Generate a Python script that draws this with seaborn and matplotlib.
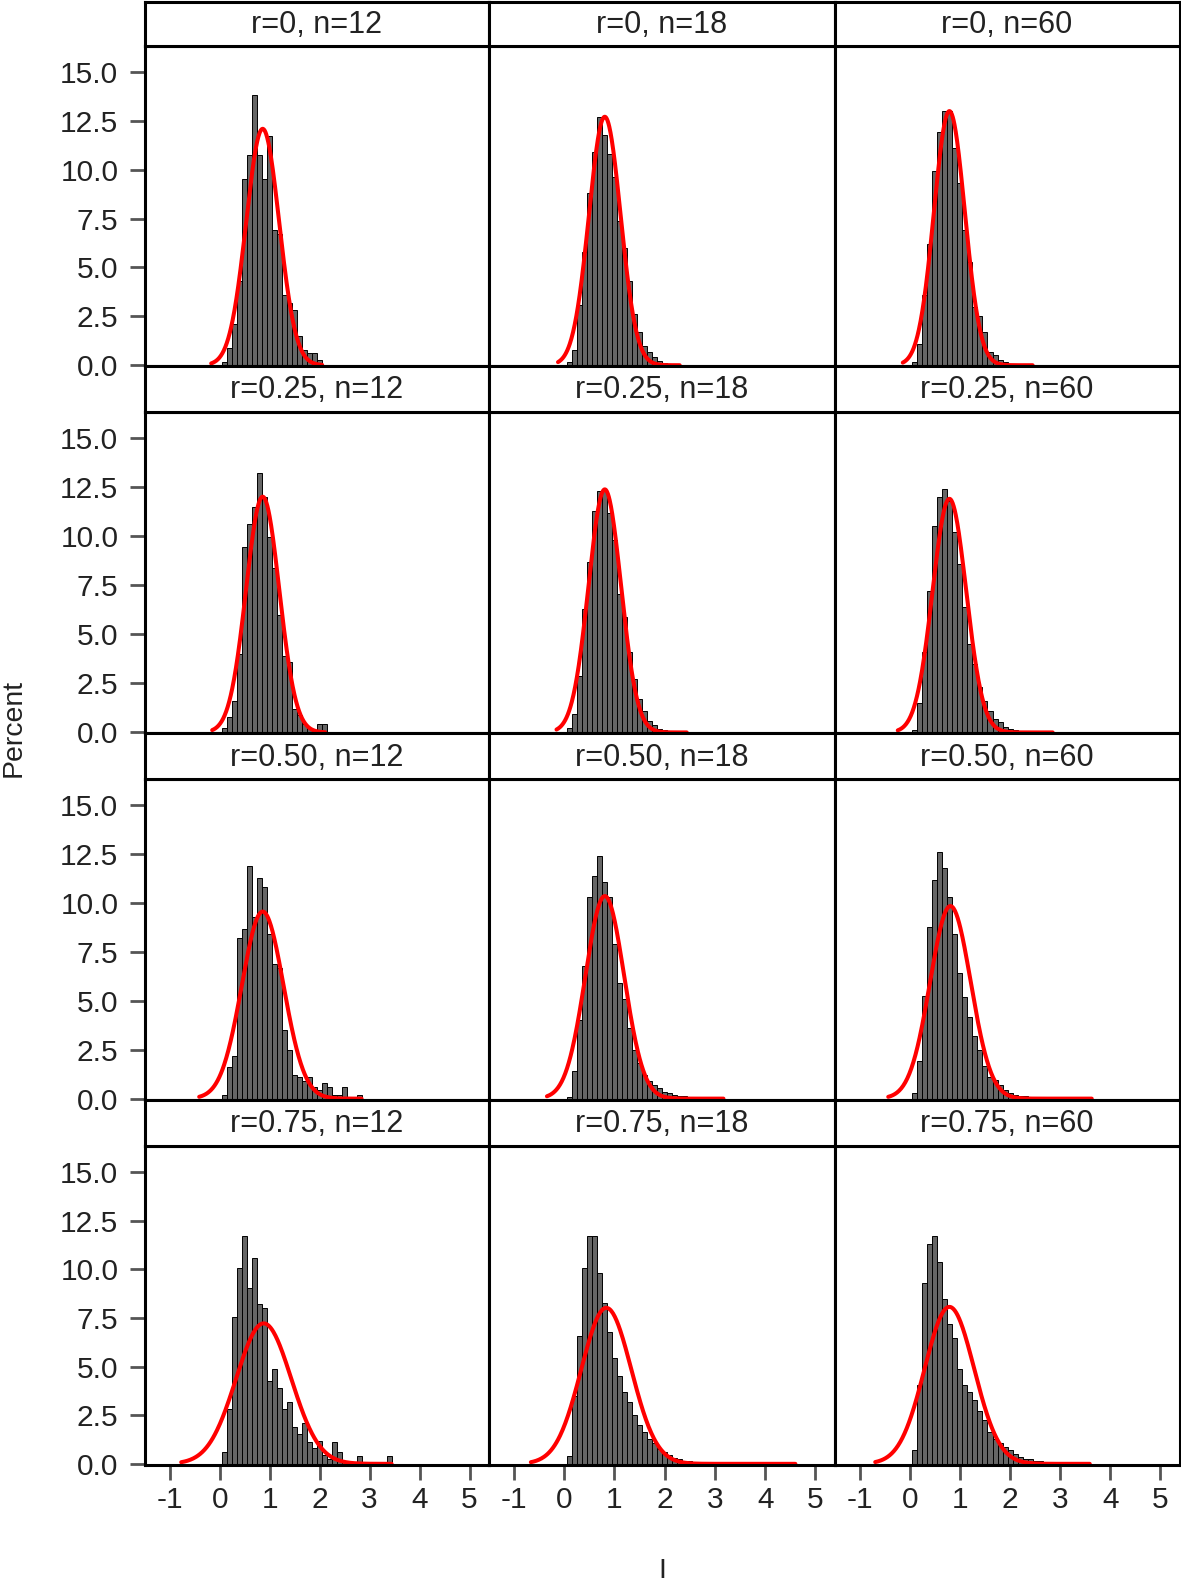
import numpy as np
import pandas as pd
import matplotlib
matplotlib.use('Agg')
import matplotlib.pyplot as plt
import seaborn as sns

sns.set_theme(style='white')
plt.rcParams['font.family'] = ['Liberation Sans', 'DejaVu Sans']
plt.rcParams['axes.unicode_minus'] = False

# ---------------- data ----------------
r_labels = ['0', '0.25', '0.50', '0.75']
n_labels = ['12', '18', '60']

# percent per bin (bin width 0.1, first bin centred at 0.1)
pct_r000_n12 = [0.17, 0.9, 2.1, 4.3, 9.5, 10.75, 13.8, 10.75, 9.5, 11.7, 6.9, 6.7, 3.6, 3.2, 2.8, 1.5, 0.77, 0.6, 0.6, 0.26]
pct_r000_n18 = [0.17, 0.77, 3.1, 5.8, 8.8, 10.9, 12.7, 11.75, 10.8, 9.6, 7.4, 6.0, 4.3, 2.6, 1.7, 1.0, 0.7, 0.4, 0.2, 0.1]
pct_r000_n60 = [0.17, 1.1, 3.6, 6.2, 9.95, 11.95, 13.0, 13.0, 11.1, 9.3, 6.9, 5.3, 3.0, 2.5, 1.7, 0.7, 0.5, 0.26, 0.17]
pct_r025_n12 = [0.2, 0.8, 1.6, 4.0, 9.45, 10.65, 11.5, 13.2, 12.0, 9.97, 8.4, 6.0, 3.9, 3.6, 1.2, 0.9, 0.43, 0.2, 0.1, 0.43, 0.43]
pct_r025_n18 = [0.2, 0.95, 2.9, 6.3, 8.7, 11.3, 12.3, 12.3, 11.2, 9.8, 7.05, 5.9, 4.1, 2.7, 1.7, 1.1, 0.6, 0.36, 0.17, 0.1]
pct_r025_n60 = [0.1, 1.5, 4.1, 7.2, 10.5, 12.0, 12.4, 11.8, 10.2, 8.6, 6.4, 4.5, 3.5, 2.3, 1.6, 1.1, 0.7, 0.55, 0.3, 0.15, 0.1]
pct_r050_n12 = [0.2, 1.6, 2.2, 8.2, 8.7, 11.9, 9.3, 11.3, 10.8, 8.4, 6.9, 6.7, 3.5, 2.5, 1.2, 1.1, 0.9, 1.1, 0.6, 0.45, 0.8, 0.6, 0.2, 0.2, 0.6, 0.0, 0.0, 0.2]
pct_r050_n18 = [0.1, 1.4, 4.0, 6.8, 10.3, 11.4, 12.4, 11.1, 10.3, 7.9, 5.9, 5.1, 3.6, 2.5, 1.8, 1.2, 0.9, 0.7, 0.55, 0.36, 0.27, 0.17, 0.15, 0.15, 0.1]
pct_r050_n60 = [0.27, 1.9, 5.25, 8.8, 11.2, 12.6, 11.8, 10.3, 8.4, 6.45, 5.2, 4.2, 3.2, 2.5, 1.65, 1.13, 0.96, 0.7, 0.45, 0.3, 0.2, 0.15, 0.12, 0.1, 0.1]
pct_r075_n12 = [0.6, 2.8, 7.55, 10.1, 11.7, 9.05, 10.6, 8.25, 8.0, 4.25, 4.9, 3.9, 2.8, 3.2, 1.9, 1.55, 2.1, 1.1, 0.8, 1.2, 0.45, 0.27, 1.1, 0.6, 0.15, 0.15, 0.1, 0.4, 0.1, 0.0, 0.0, 0.0, 0.0, 0.4]
pct_r075_n18 = [0.4, 3.5, 6.6, 10.1, 11.7, 11.7, 9.8, 8.3, 6.8, 5.45, 4.5, 3.7, 3.2, 2.5, 2.0, 1.65, 1.3, 1.05, 0.75, 0.6, 0.45, 0.3, 0.24, 0.17, 0.12, 0.1, 0.08, 0.06, 0.05, 0.05, 0.04]
pct_r075_n60 = [0.7, 4.05, 9.3, 11.3, 11.7, 10.4, 8.5, 7.2, 6.5, 4.9, 4.05, 3.7, 3.3, 2.7, 2.25, 1.65, 1.3, 1.05, 0.87, 0.7, 0.53, 0.36, 0.27, 0.24, 0.17, 0.14, 0.1, 0.1, 0.06]

hist_data = [
    [pct_r000_n12, pct_r000_n18, pct_r000_n60],
    [pct_r025_n12, pct_r025_n18, pct_r025_n60],
    [pct_r050_n12, pct_r050_n18, pct_r050_n60],
    [pct_r075_n12, pct_r075_n18, pct_r075_n60],
]

# fitted normal curve parameters (row-major: r, then n)
curve_mu = [0.86, 0.81, 0.79, 0.86, 0.81, 0.79, 0.86, 0.81, 0.81, 0.88, 0.84, 0.79]
curve_sd = [0.33, 0.314, 0.307, 0.332, 0.322, 0.335, 0.417, 0.385, 0.405, 0.552, 0.497, 0.494]
curve_lo = [-0.17, -0.12, -0.14, -0.15, -0.15, -0.24, -0.41, -0.34, -0.43, -0.77, -0.66, -0.69]
curve_hi = [2.05, 2.3, 2.45, 2.11, 2.44, 2.85, 2.84, 3.17, 3.63, 3.44, 4.6, 3.59]

bin_width = 0.1
y_ticks = [0.0, 2.5, 5.0, 7.5, 10.0, 12.5, 15.0]
x_ticks = [-1, 0, 1, 2, 3, 4, 5]

# ---------------- layout ----------------
W, H = 1181, 1586
fig = plt.figure(figsize=(W / 100, H / 100), dpi=100)

col_edges = [144.7, 488.6, 834.6, 1179.5]
panel_top = [45.5, 411.7, 779.0, 1146.1]
panel_bot = [366.2, 733.4, 1099.6, 1464.8]
strip_top = [1.5, 366.2, 733.4, 1099.6]

frame_lw = 2.2
tick_col = '#555555'
text_col = '#222222'

def rect(x0, x1, y0, y1):
    return [x0 / W, 1 - y1 / H, (x1 - x0) / W, (y1 - y0) / H]

for r in range(4):
    for c in range(3):
        ax = fig.add_axes(rect(col_edges[c], col_edges[c + 1], panel_top[r], panel_bot[r]))
        h = np.array(hist_data[r][c], dtype=float)
        centers = bin_width * (np.arange(len(h)) + 1)
        lo_edge = float(centers[0] - bin_width / 2)
        hi_edge = float(centers[-1] + bin_width / 2)
        df = pd.DataFrame({'I': centers, 'pct': h})
        sns.histplot(data=df, x='I', weights='pct', binwidth=bin_width,
                     binrange=(lo_edge, hi_edge), ax=ax,
                     color='#666666', edgecolor='black', linewidth=0.7, alpha=1.0)
        k = r * 3 + c
        xs = np.linspace(curve_lo[k], curve_hi[k], 300)
        ys = 10.0 / (curve_sd[k] * np.sqrt(2 * np.pi)) * np.exp(-0.5 * ((xs - curve_mu[k]) / curve_sd[k]) ** 2)
        sns.lineplot(x=xs, y=ys, ax=ax, color='red', linewidth=2.9)
        ax.set_xlim(-1.5, 5.38)
        ax.set_ylim(-0.05, 16.35)
        ax.set_xlabel('')
        ax.set_ylabel('')
        for s in ax.spines.values():
            s.set_linewidth(frame_lw)
            s.set_color('black')
        ax.set_yticks(y_ticks)
        ax.set_xticks(x_ticks)
        if c == 0:
            ax.set_yticklabels([f'{v:.1f}' for v in y_ticks])
            ax.tick_params(axis='y', direction='out', length=10.5, width=2.0, color=tick_col,
                           labelsize=21.5, labelcolor=text_col, left=True, pad=8.5)
        else:
            ax.tick_params(axis='y', left=False, labelleft=False)
        if r == 3:
            ax.set_xticklabels([str(v) for v in x_ticks])
            ax.tick_params(axis='x', direction='out', length=10.5, width=2.0, color=tick_col,
                           labelsize=21.5, labelcolor=text_col, bottom=True, pad=5)
        else:
            ax.tick_params(axis='x', bottom=False, labelbottom=False)

        sax = fig.add_axes(rect(col_edges[c], col_edges[c + 1], strip_top[r], panel_top[r]))
        sax.set_xticks([])
        sax.set_yticks([])
        sax.set_facecolor('white')
        for s in sax.spines.values():
            s.set_linewidth(frame_lw)
            s.set_color('black')
        sax.text(0.5, 0.47, f'r={r_labels[r]}, n={n_labels[c]}', ha='center', va='center',
                 fontsize=22, color=text_col, transform=sax.transAxes)

fig.text(14 / W, 1 - 728 / H, 'Percent', rotation=90, ha='center', va='center',
         fontsize=20.5, color=text_col)
fig.text(662 / W, 1 - 1571 / H, 'I', ha='center', va='center', fontsize=20.5, color=text_col)

fig.savefig('out.png', dpi=100, facecolor='white')
